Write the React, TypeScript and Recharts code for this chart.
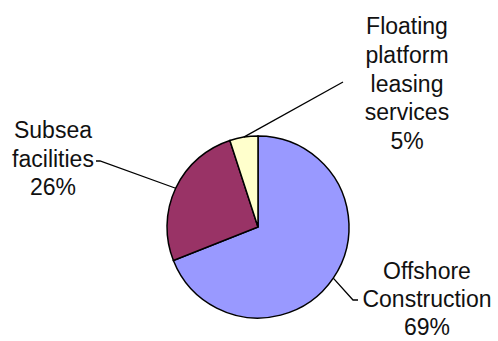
import React from 'react';
import { PieChart, Pie, Cell } from 'recharts';

const CATEGORIES = ['Offshore Construction', 'Subsea facilities', 'Floating platform leasing services'];
const SHARES = [69, 26, 5];
const COLORS = ['#9999FF', '#993366', '#FFFFCC'];

// label text lines + where each label sits (chart pixel space)
const LABEL_LINES: Record<string, string[]> = {
  'Offshore Construction': ['Offshore', 'Construction'],
  'Subsea facilities': ['Subsea', 'facilities'],
  'Floating platform leasing services': ['Floating', 'platform', 'leasing', 'services'],
};

const LABEL_LAYOUT: Record<string, { tx: number; ty: number; lh: number; elbow: [number, number]; end: [number, number] }> = {
  'Offshore Construction': { tx: 427, ty: 279, lh: 28, elbow: [353, 300], end: [358, 300] },
  'Subsea facilities': { tx: 53, ty: 138, lh: 28.5, elbow: [100, 161], end: [96, 161] },
  'Floating platform leasing services': { tx: 407, ty: 34, lh: 28.8, elbow: [343, 82], end: [343, 82] },
};

const RAD = Math.PI / 180;

const data = CATEGORIES.map((name, i) => ({ name, value: SHARES[i] }));

const renderLabel = (props: any) => {
  const { cx, cy, midAngle, outerRadius, name, percent } = props;
  const sx = cx + Math.cos(-midAngle * RAD) * outerRadius;
  const sy = cy + Math.sin(-midAngle * RAD) * outerRadius;
  const lay = LABEL_LAYOUT[name];
  const lines = [...LABEL_LINES[name], `${Math.round(percent * 100)}%`];
  return (
    <g>
      <polyline
        points={`${sx},${sy} ${lay.elbow[0]},${lay.elbow[1]} ${lay.end[0]},${lay.end[1]}`}
        fill="none"
        stroke="#000"
        strokeWidth={1.3}
      />
      <text
        x={lay.tx}
        y={lay.ty}
        textAnchor="middle"
        fill="#111"
        fontSize={23}
        fontFamily="'Liberation Sans', Arial, sans-serif"
      >
        {lines.map((l, i) => (
          <tspan key={i} x={lay.tx} y={lay.ty + i * lay.lh}>
            {l}
          </tspan>
        ))}
      </text>
    </g>
  );
};

export default function App() {
  return (
    <div style={{ position: 'absolute', left: 0, top: 0, width: 498, height: 341, background: '#fff' }}>
      <PieChart width={498} height={341} margin={{ top: 0, right: 0, bottom: 0, left: 0 }}>
        <Pie
          data={data}
          dataKey="value"
          nameKey="name"
          cx={258}
          cy={227}
          outerRadius={91}
          startAngle={90}
          endAngle={-270}
          stroke="#000"
          strokeWidth={1.5}
          labelLine={false}
          label={renderLabel}
          isAnimationActive={false}
        >
          {data.map((d, i) => (
            <Cell key={d.name} fill={COLORS[i]} />
          ))}
        </Pie>
      </PieChart>
    </div>
  );
}
